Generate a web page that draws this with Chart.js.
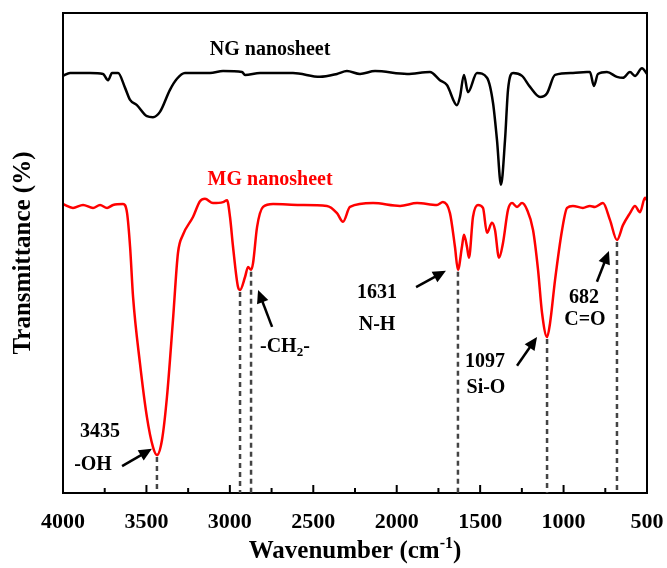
<!DOCTYPE html>
<html>
<head>
<meta charset="utf-8">
<script src="https://cdn.jsdelivr.net/npm/chart.js@4.4.0/dist/chart.umd.min.js"></script>
<style>
  body { margin: 0; background: #fff; }
  #wrap { width: 667px; height: 568px; }
</style>
</head>
<body>
<div id="wrap"><canvas id="ftir-chart"></canvas></div>
<script>
// NG nanosheet spectrum (wavenumber cm-1, transmittance a.u.)
const ngWave = [4000, 3958, 3838, 3760, 3730, 3706, 3670, 3628, 3598, 3557, 3497, 3461, 3419, 3359, 3317, 3269,
  3119, 3041, 2927, 2909, 2819, 2622, 2460, 2358, 2298, 2220, 2130, 1938, 1801, 1741, 1699, 1639, 1621, 1597,
  1573, 1519, 1459, 1423, 1399, 1375, 1351, 1333, 1303, 1249, 1201, 1141, 1099, 1051, 944, 860, 842, 818, 794,
  740, 680, 644, 602, 572, 530, 500];
const ngTrans = [86.9, 87.5, 87.5, 87.3, 86.0, 87.5, 87.5, 84.4, 81.9, 80.8, 78.5, 78.3, 79.4, 84.0, 86.3, 87.5,
  87.5, 87.9, 87.7, 87.1, 87.5, 87.5, 86.7, 87.3, 87.9, 87.3, 87.9, 87.3, 87.7, 86.0, 85.0, 80.8, 82.5, 87.1,
  83.5, 87.5, 86.5, 81.3, 73.5, 64.2, 73.5, 84.0, 87.5, 86.9, 84.6, 82.5, 83.3, 87.1, 87.5, 87.7, 87.7, 84.8, 87.3,
  87.7, 86.7, 86.5, 87.7, 86.9, 88.5, 87.3];

// MG nanosheet spectrum
const mgWave = [4000, 3940, 3880, 3820, 3778, 3736, 3700, 3640, 3616, 3598, 3580, 3539, 3497, 3461, 3437, 3407,
  3377, 3341, 3311, 3281, 3221, 3179, 3149, 3101, 3041, 3017, 2999, 2981, 2951, 2939, 2909, 2891, 2873, 2861,
  2837, 2801, 2741, 2580, 2418, 2358, 2322, 2280, 2142, 1980, 1878, 1759, 1723, 1681, 1651, 1633, 1609, 1597,
  1579, 1567, 1543, 1513, 1483, 1459, 1429, 1411, 1387, 1363, 1333, 1309, 1279, 1249, 1219, 1183, 1153, 1129,
  1099, 1081, 1051, 1009, 979, 944, 884, 842, 812, 764, 722, 680, 644, 602, 572, 542, 512, 500];
const mgTrans = [60.2, 59.4, 60.0, 59.4, 60.0, 59.4, 60.0, 60.2, 58.3, 51.3, 40.8, 27.1, 15.8, 9.6, 7.9, 11.0,
  20.0, 36.0, 50.0, 53.8, 57.5, 60.8, 61.3, 60.4, 60.6, 61.0, 57.5, 51.3, 42.9, 42.3, 45.0, 47.1, 46.5, 47.9,
  55.4, 59.6, 60.2, 60.0, 59.8, 58.3, 56.5, 59.6, 60.4, 59.8, 60.4, 60.0, 60.6, 58.3, 51.3, 46.5, 51.3, 53.8,
  51.3, 49.0, 57.5, 60.0, 59.4, 54.2, 56.3, 54.8, 49.0, 52.1, 59.0, 60.4, 59.6, 60.4, 59.0, 54.8, 46.5, 37.5,
  32.5, 35.4, 44.4, 54.8, 59.4, 59.8, 59.4, 59.8, 59.6, 60.4, 56.9, 52.7, 55.8, 58.3, 59.8, 58.5, 61.5, 61.0];

// marked peaks: where the dashed drop line sits and how deep the curve goes there
const peakWave = [3437, 2939, 2873, 1633, 1099, 680];
const peakTrans = [7.9, 42.3, 46.5, 46.5, 32.5, 52.7];

const tickLabels = ['4000', '3500', '3000', '2500', '2000', '1500', '1000', '500'];

const serif = '"Times New Roman", "Liberation Serif", serif';

function toPoints(xs, ys) {
  return xs.map((w, i) => ({ x: w, y: ys[i] }));
}

// draws the frame, inward ticks, drop lines, arrows and labels
const annotate = {
  id: 'annotate',
  afterDatasetsDraw(chart) {
    const { ctx, chartArea: a, scales: { x, y } } = chart;
    const px = w => x.getPixelForValue(w);
    const py = v => y.getPixelForValue(v);

    ctx.save();
    ctx.strokeStyle = '#000';
    ctx.lineWidth = 2;
    ctx.strokeRect(a.left, a.top, a.right - a.left, a.bottom - a.top);

    x.ticks.forEach(t => {
      const X = px(t.value);
      const len = t.value % 500 === 0 ? 8 : 5;
      ctx.beginPath();
      ctx.moveTo(X, a.bottom);
      ctx.lineTo(X, a.bottom - len);
      ctx.stroke();
    });

    // dashed drop lines
    ctx.strokeStyle = '#444';
    ctx.lineWidth = 2.5;
    ctx.setLineDash([5, 4]);
    peakWave.forEach((w, i) => {
      ctx.beginPath();
      ctx.moveTo(px(w), py(peakTrans[i]) + 2);
      ctx.lineTo(px(w), a.bottom);
      ctx.stroke();
    });
    ctx.setLineDash([]);

    // arrows (tail -> head)
    const arrow = (w1, v1, w2, v2) => {
      const x1 = px(w1), y1 = py(v1), x2 = px(w2), y2 = py(v2);
      const ang = Math.atan2(y2 - y1, x2 - x1);
      ctx.strokeStyle = '#000';
      ctx.fillStyle = '#000';
      ctx.lineWidth = 2.5;
      ctx.beginPath();
      ctx.moveTo(x1, y1);
      ctx.lineTo(x2 - 8 * Math.cos(ang), y2 - 8 * Math.sin(ang));
      ctx.stroke();
      ctx.beginPath();
      ctx.moveTo(x2, y2);
      ctx.lineTo(x2 - 13 * Math.cos(ang) + 6 * Math.sin(ang), y2 - 13 * Math.sin(ang) - 6 * Math.cos(ang));
      ctx.lineTo(x2 - 13 * Math.cos(ang) - 6 * Math.sin(ang), y2 - 13 * Math.sin(ang) + 6 * Math.cos(ang));
      ctx.closePath();
      ctx.fill();
    };
    arrow(3646, 5.6, 3467, 9.2);
    arrow(2747, 34.6, 2831, 42.3);
    arrow(1884, 42.9, 1705, 46.3);
    arrow(1279, 26.5, 1159, 32.5);
    arrow(800, 44.0, 728, 50.4);

    const label = (text, w, v, color) => {
      ctx.fillStyle = color || '#000';
      ctx.font = 'bold 20px ' + serif;
      ctx.textAlign = 'center';
      ctx.textBaseline = 'middle';
      ctx.fillText(text, px(w), py(v));
    };
    label('NG nanosheet', 2759, 92.3);
    label('MG nanosheet', 2759, 65.2, '#ff0000');
    label('3435', 3778, 12.7);
    label('-OH', 3820, 5.8);
    label('1631', 2118, 41.7);
    label('N-H', 2118, 35.0);
    label('1097', 1471, 27.3);
    label('Si-O', 1465, 21.9);
    label('682', 878, 40.6);
    label('C=O', 872, 36.0);

    // -CH2- with subscript
    ctx.textAlign = 'left';
    ctx.textBaseline = 'alphabetic';
    ctx.fillStyle = '#000';
    const big = 'bold 20px ' + serif, small = 'bold 13px ' + serif;
    ctx.font = big;
    const w1 = ctx.measureText('-CH').width, w3 = ctx.measureText('-').width;
    ctx.font = small;
    const w2 = ctx.measureText('2').width;
    let cx = px(2670) - (w1 + w2 + w3) / 2;
    const base = py(30.8) + 7;
    ctx.font = big; ctx.fillText('-CH', cx, base);
    ctx.font = small; ctx.fillText('2', cx + w1, base + 4);
    ctx.font = big; ctx.fillText('-', cx + w1 + w2, base);

    // x axis title with superscript
    const tb = 'bold 25px ' + serif, ts = 'bold 16px ' + serif;
    ctx.font = tb;
    const t1 = ctx.measureText('Wavenumber (cm').width, t3 = ctx.measureText(')').width;
    ctx.font = ts;
    const t2 = ctx.measureText('-1').width;
    cx = (a.left + a.right) / 2 - (t1 + t2 + t3) / 2;
    const tbase = 558;
    ctx.font = tb; ctx.fillText('Wavenumber (cm', cx, tbase);
    ctx.font = ts; ctx.fillText('-1', cx + t1, tbase - 10);
    ctx.font = tb; ctx.fillText(')', cx + t1 + t2, tbase);

    ctx.restore();
  }
};

const ctx = document.getElementById('ftir-chart').getContext('2d');
new Chart(ctx, {
  type: 'line',
  data: {
    datasets: [{
      label: 'NG nanosheet',
      data: toPoints(ngWave, ngTrans),
      borderColor: '#000',
      borderWidth: 2.5,
      pointRadius: 0,
      cubicInterpolationMode: 'monotone'
    }, {
      label: 'MG nanosheet',
      data: toPoints(mgWave, mgTrans),
      borderColor: '#ff0000',
      borderWidth: 2.5,
      pointRadius: 0,
      cubicInterpolationMode: 'monotone'
    }]
  },
  options: {
    responsive: true,
    maintainAspectRatio: false,
    animation: false,
    layout: { padding: { top: 13, right: 20, left: 0, bottom: 0 } },
    plugins: { legend: { display: false }, tooltip: { enabled: false } },
    scales: {
      x: {
        type: 'linear',
        min: 500,
        max: 4000,
        reverse: true,
        grid: { display: false, drawTicks: false },
        border: { display: true, color: '#000', width: 2 },
        ticks: {
          stepSize: 250,
          autoSkip: false,
          maxRotation: 0,
          padding: 16,
          color: '#000',
          font: { family: serif, size: 22, weight: 'bold' },
          callback: v => v % 500 === 0 ? tickLabels[(4000 - v) / 500] : ''
        },
        afterFit: s => { s.height = 75; s.paddingLeft = 0; s.paddingRight = 0; }
      },
      y: {
        min: 0,
        max: 100,
        grid: { display: false, drawTicks: false },
        border: { display: true, color: '#000', width: 2 },
        ticks: { display: false },
        title: {
          display: true,
          text: 'Transmittance (%)',
          color: '#000',
          font: { family: serif, size: 25, weight: 'bold' },
          padding: { top: 9, bottom: 0 }
        },
        afterFit: s => { s.width = 63; }
      }
    }
  },
  plugins: [annotate]
});
</script>
</body>
</html>
